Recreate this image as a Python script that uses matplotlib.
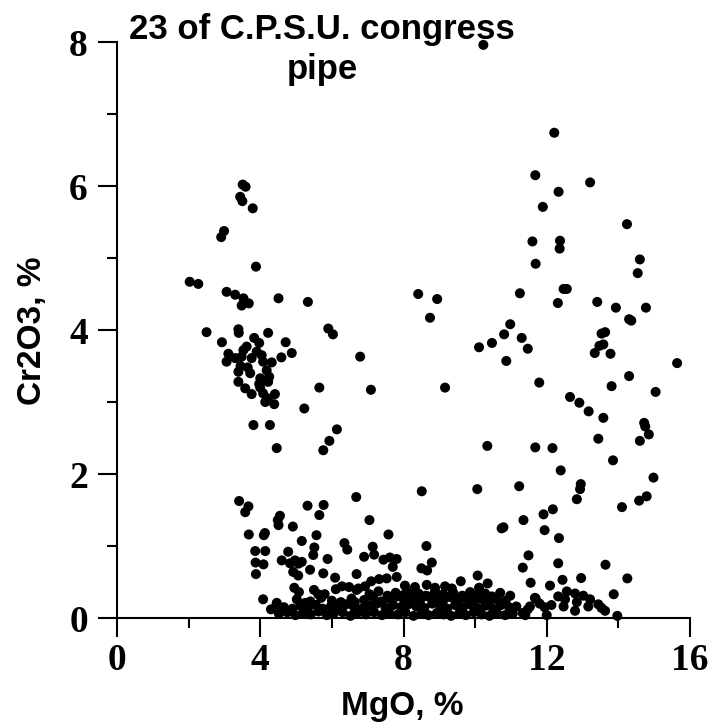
import matplotlib
matplotlib.use("Agg")
import matplotlib.pyplot as plt
from matplotlib.ticker import MultipleLocator

# high Cr2O3, low MgO group (upper left)
mgo_hi_left = [3.51, 3.59, 3.44, 3.50, 3.79, 2.99, 2.91, 3.88, 2.03, 2.27, 3.06, 3.30,
               3.53, 3.48, 3.68, 4.51, 5.33, 2.50, 3.39, 3.40, 4.22, 2.93, 3.83, 3.97,
               4.71, 4.88, 4.59, 5.90, 6.03, 6.79, 5.65, 5.23, 3.81, 4.27, 6.14, 5.93,
               4.46, 5.76, 7.09,
               3.11, 3.06, 3.53, 3.62, 3.48, 3.30, 3.76, 4.04, 4.08, 4.32, 4.18, 3.39,
               3.72, 4.00, 3.39, 3.58, 3.76, 4.00, 4.22, 4.08, 4.41, 4.14, 4.39, 4.22,
               3.97, 3.45, 3.65, 3.90, 4.25]
cr_hi_left = [6.02, 5.99, 5.85, 5.79, 5.69, 5.375, 5.29, 4.88, 4.67, 4.64, 4.53, 4.49,
              4.44, 4.34, 4.37, 4.44, 4.39, 3.97, 4.01, 3.96, 3.96, 3.83, 3.89, 3.82,
              3.83, 3.68, 3.62, 4.02, 3.94, 3.63, 3.20, 2.91, 2.68, 2.68, 2.62, 2.46,
              2.36, 2.33, 3.17,
              3.67, 3.56, 3.72, 3.77, 3.63, 3.61, 3.61, 3.65, 3.56, 3.55, 3.44, 3.42,
              3.40, 3.33, 3.28, 3.19, 3.11, 3.20, 3.28, 3.12, 3.11, 3.00, 2.97, 3.05,
              3.25, 3.50, 3.48, 3.70, 3.35]

# scattered points in the middle
mgo_mid = [10.23, 8.41, 8.94, 8.74, 10.11, 10.47, 10.81, 10.98, 10.87, 10.34, 9.16]
cr_mid = [7.96, 4.50, 4.43, 4.17, 3.76, 3.82, 3.94, 4.08, 3.57, 2.39, 3.20]

# high MgO group (right)
mgo_right = [12.21, 11.68, 13.21, 12.33, 11.89, 14.24, 11.60, 12.37, 12.36, 11.69, 14.60,
             14.54, 11.25, 12.47, 12.56, 12.31, 13.41, 13.93, 14.77, 14.30, 14.36, 11.30,
             11.47, 13.53, 13.63, 13.47, 13.58, 13.34, 13.78, 15.64, 11.79, 14.30, 13.81,
             15.04, 12.65, 12.91, 13.17, 13.58, 14.72, 14.75, 14.85, 13.44, 14.60, 11.68,
             12.16, 13.85, 12.39, 14.98, 11.23, 12.95, 12.93, 12.84, 14.10, 14.58, 14.79,
             12.17, 11.91, 11.35, 11.94, 12.34, 11.49, 11.33, 12.32, 13.64, 11.55, 12.09,
             12.44, 12.96, 14.25, 13.87, 10.06, 10.74, 10.79]
cr_right = [6.74, 6.15, 6.05, 5.92, 5.71, 5.47, 5.23, 5.24, 5.13, 4.92, 4.98,
            4.79, 4.51, 4.57, 4.57, 4.375, 4.39, 4.31, 4.31, 4.15, 4.13, 3.89,
            3.74, 3.95, 3.97, 3.78, 3.80, 3.68, 3.67, 3.54, 3.27, 3.36, 3.22,
            3.14, 3.07, 2.99, 2.87, 2.78, 2.71, 2.66, 2.55, 2.49, 2.46, 2.37,
            2.36, 2.19, 2.05, 1.95, 1.83, 1.86, 1.79, 1.65, 1.54, 1.63, 1.69,
            1.51, 1.44, 1.36, 1.22, 1.11, 0.87, 0.70, 0.76, 0.74, 0.49, 0.45,
            0.53, 0.555, 0.55, 0.33, 1.79, 1.245, 1.26]

# low Cr2O3 points of the right group
mgo_right_low = [11.69, 11.53, 11.80, 11.94, 12.13, 12.00, 11.40, 12.32, 12.56, 12.51, 12.47,
                 12.79, 12.84, 12.79, 13.02, 13.21, 13.16, 13.44, 13.53, 13.63, 13.97, 11.67,
                 11.47, 11.33]
cr_right_low = [0.27, 0.16, 0.20, 0.15, 0.18, 0.04, 0.04, 0.30, 0.37, 0.26, 0.16,
                0.34, 0.22, 0.10, 0.31, 0.26, 0.16, 0.19, 0.14, 0.10, 0.03, 0.28,
                0.12, 0.07]

# moderate Cr2O3 (0.5 - 1.8 %) lower left
mgo_low_mid = [6.68, 3.41, 3.67, 3.58, 5.32, 5.77, 5.65, 4.55, 4.49, 4.51, 4.91, 3.68,
               4.10, 4.13, 5.57, 5.16, 5.51, 5.48, 6.35, 6.43, 3.86, 4.14, 4.78, 3.87,
               4.09, 4.60, 4.83, 4.97, 5.16, 5.07, 5.88, 3.88, 4.92, 5.06, 5.39, 5.76,
               6.09, 6.69, 8.51, 7.05, 7.58, 7.14, 7.18, 6.90, 7.44, 7.62, 7.81, 7.70,
               8.64, 8.79, 8.50, 8.66, 7.10, 7.32, 7.53, 7.81, 9.60, 10.07, 10.35, 10.11]
cr_low_mid = [1.68, 1.625, 1.55, 1.47, 1.56, 1.57, 1.43, 1.42, 1.36, 1.29, 1.27, 1.16,
              1.15, 1.18, 1.15, 1.07, 0.98, 0.875, 1.04, 0.95, 0.93, 0.93, 0.92, 0.77,
              0.745, 0.80, 0.76, 0.80, 0.78, 0.755, 0.82, 0.61, 0.64, 0.59, 0.67, 0.62,
              0.56, 0.61, 1.76, 1.36, 1.16, 0.99, 0.88, 0.85, 0.81, 0.84, 0.82, 0.71,
              1.00, 0.77, 0.69, 0.66, 0.51, 0.54, 0.55, 0.57, 0.51, 0.59, 0.48, 0.42]

# dense band near the MgO axis
mgo_band = [4.95, 5.08, 5.50, 5.62, 5.80, 6.11, 6.28, 6.48, 6.69, 4.08, 4.46, 6.64, 5.26,
            6.74, 6.93, 8.04, 8.32, 8.65, 8.88, 9.16, 9.35,
            8.88, 9.11, 9.39, 9.64, 9.86, 10.06, 10.28, 10.47, 10.70, 10.98,
            7.05, 7.30, 7.55, 7.78, 8.00, 8.20, 8.42, 8.62,
            5.02, 5.40, 5.70, 6.00, 6.25, 6.55, 6.90, 7.15, 7.38, 7.60, 7.82, 8.02, 8.25,
            8.47, 8.68, 8.90, 9.10, 9.30, 9.52, 9.72, 9.95, 10.15, 10.38, 10.60, 10.85,
            4.46, 4.66, 4.90, 5.12, 5.33, 5.55, 5.74, 5.97, 6.18, 6.40, 6.62, 6.84, 7.05,
            7.26, 7.50, 7.71, 7.93, 8.14, 8.36, 8.58, 8.80, 9.02, 9.22, 9.44, 9.66, 9.86,
            10.06, 10.28, 10.50, 10.72, 10.95, 11.15,
            4.30, 4.52, 4.75, 4.98, 5.20, 5.41, 5.63, 5.86, 6.05, 6.30, 6.52, 6.71, 6.95,
            7.18, 7.40, 7.62, 7.85, 8.05, 8.28, 8.50, 8.70, 8.93, 9.12, 9.33, 9.55, 9.74,
            9.96, 10.18, 10.40, 10.61, 10.84, 11.05]
cr_band = [0.42, 0.36, 0.39, 0.33, 0.33, 0.40, 0.44, 0.43, 0.39, 0.26, 0.21, 0.22, 0.21,
           0.41, 0.44, 0.45, 0.43, 0.46, 0.42, 0.44, 0.41,
           0.37, 0.33, 0.35, 0.31, 0.36, 0.32, 0.34, 0.30, 0.35, 0.31,
           0.33, 0.37, 0.31, 0.35, 0.32, 0.36, 0.34, 0.31,
           0.26, 0.23, 0.28, 0.24, 0.22, 0.27, 0.25, 0.29, 0.23, 0.27, 0.30, 0.24, 0.28,
           0.25, 0.30, 0.26, 0.23, 0.29, 0.25, 0.28, 0.24, 0.27, 0.22, 0.26, 0.24,
           0.19, 0.15, 0.13, 0.17, 0.14, 0.18, 0.13, 0.16, 0.14, 0.19, 0.15, 0.13, 0.17,
           0.20, 0.14, 0.18, 0.15, 0.19, 0.16, 0.14, 0.20, 0.17, 0.13, 0.18, 0.15, 0.19,
           0.14, 0.17, 0.13, 0.18, 0.15, 0.16,
           0.12, 0.06, 0.08, 0.04, 0.07, 0.05, 0.09, 0.04, 0.06, 0.08, 0.03, 0.07, 0.05,
           0.08, 0.04, 0.06, 0.05, 0.08, 0.03, 0.06, 0.04, 0.07, 0.05, 0.03, 0.06, 0.04,
           0.08, 0.05, 0.03, 0.07, 0.04, 0.06]

mgo = mgo_hi_left + mgo_mid + mgo_right + mgo_right_low + mgo_low_mid + mgo_band
cr2o3 = cr_hi_left + cr_mid + cr_right + cr_right_low + cr_low_mid + cr_band

fig = plt.figure(figsize=(7.11, 7.26), dpi=100)
ax = fig.add_axes([117 / 711, 1 - 618 / 726, 573 / 711, 576 / 726])

ax.scatter(mgo, cr2o3, s=52, c="black", edgecolors="none", clip_on=False, zorder=3)

ax.set_xlim(0, 16)
ax.set_ylim(0, 8)
ax.spines["top"].set_visible(False)
ax.spines["right"].set_visible(False)
for side in ("left", "bottom"):
    ax.spines[side].set_linewidth(1.5)

ax.xaxis.set_major_locator(MultipleLocator(4))
ax.xaxis.set_minor_locator(MultipleLocator(2))
ax.yaxis.set_major_locator(MultipleLocator(2))
ax.yaxis.set_minor_locator(MultipleLocator(1))
ax.tick_params(which="major", direction="out", length=14, width=1.5, labelsize=27)
ax.tick_params(axis="x", which="major", pad=4)
ax.tick_params(axis="y", which="major", pad=7)
ax.tick_params(which="minor", direction="out", length=7, width=1.5)
for lab in ax.get_xticklabels() + ax.get_yticklabels():
    lab.set_fontfamily("Liberation Serif")
    lab.set_fontweight("bold")

fig.text(402 / 711, 1 - 707 / 726, "MgO, %", ha="center", va="center",
         fontsize=24, fontweight="bold", family="Liberation Sans")
fig.text(33 / 711, 1 - 331 / 726, "Cr2O3, %", ha="center", va="center", rotation=90,
         fontsize=24, fontweight="bold", family="Liberation Sans")
fig.text(322 / 711, 1 - 13 / 726, "23 of C.P.S.U. congress\npipe", ha="center", va="top",
         multialignment="center", linespacing=1.28, fontsize=25, fontweight="bold",
         family="Liberation Sans")

fig.savefig("out.png", dpi=100)
